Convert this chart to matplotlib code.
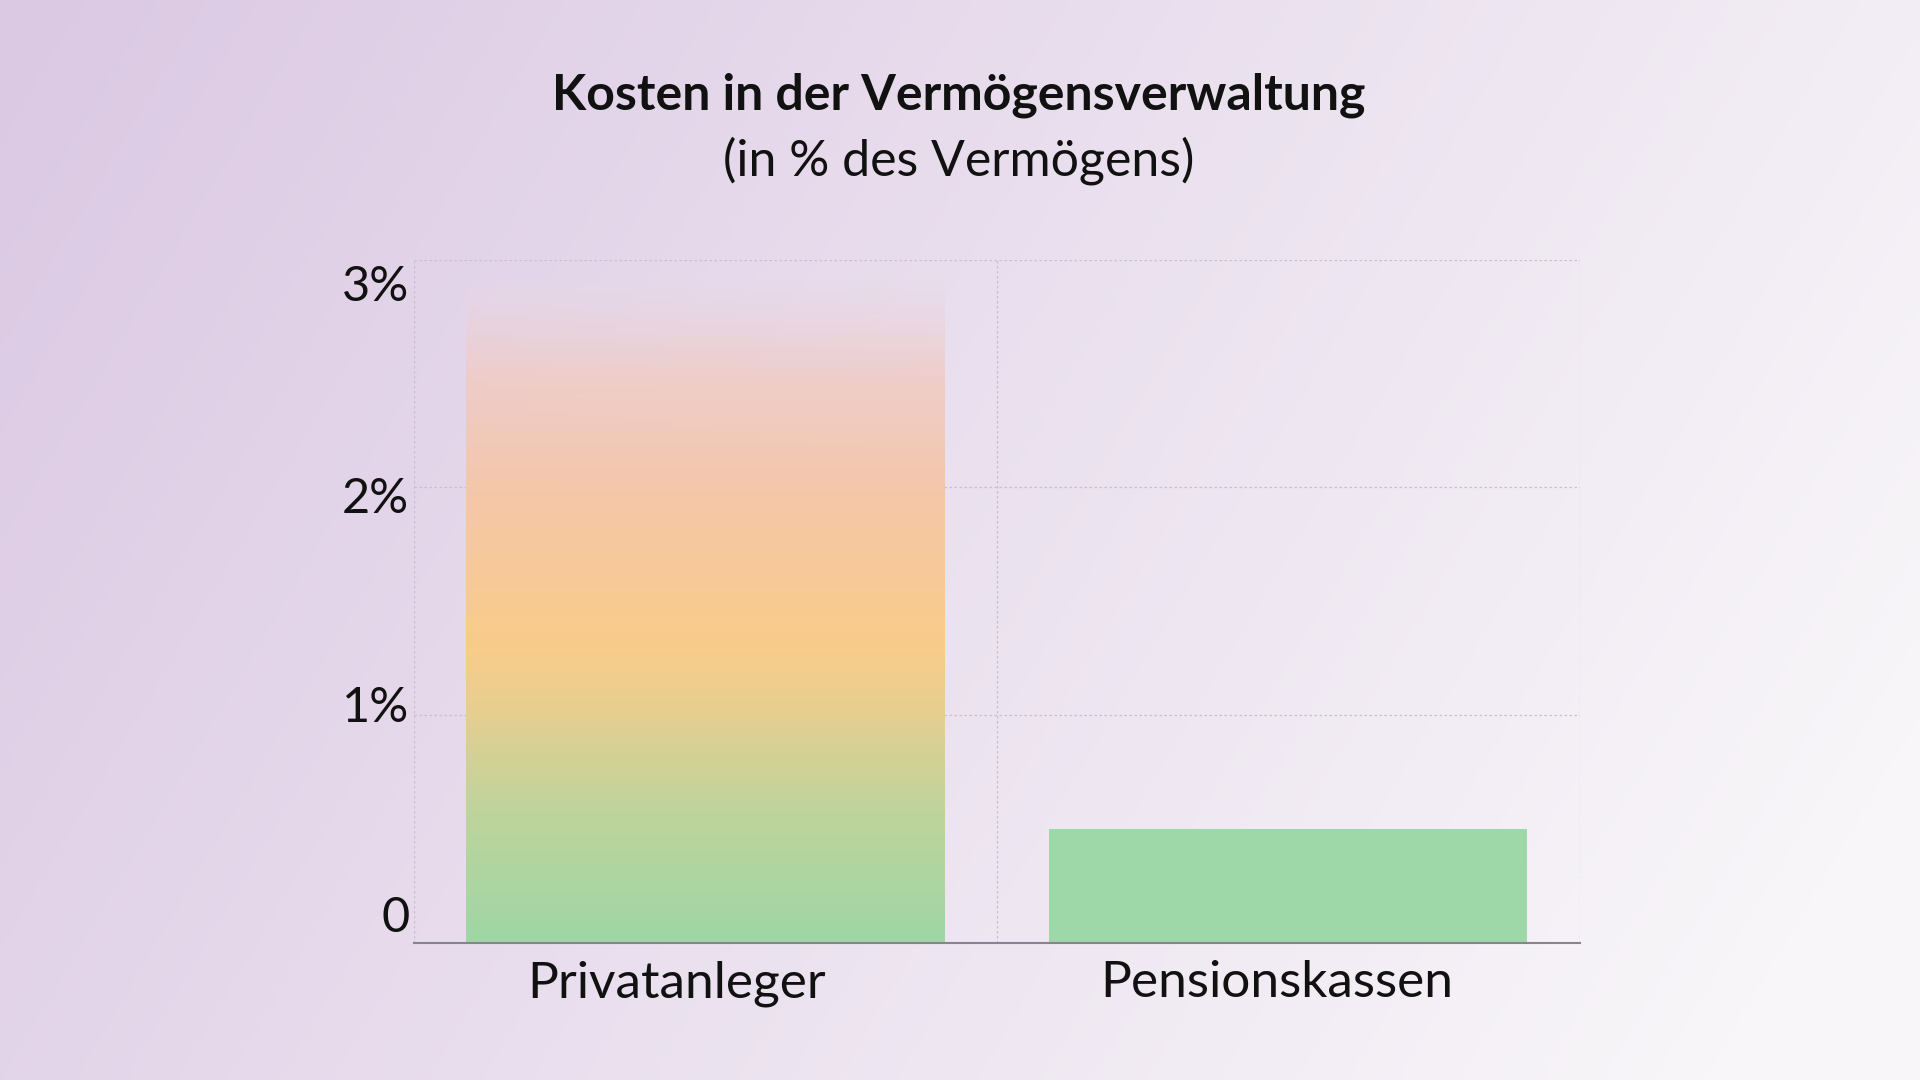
import matplotlib
matplotlib.use("Agg")
import matplotlib.pyplot as plt
import numpy as np
from matplotlib.colors import LinearSegmentedColormap, to_rgb

plt.rcParams['font.family'] = ['Lato', 'DejaVu Sans']

# Daten
kategorien = ["Privatanleger", "Pensionskassen"]
kosten = [2.9, 0.5]  # in % des Vermögens
yticks = [0, 1, 2, 3]
ytick_labels = ["0", "1%", "2%", "3%"]

fig = plt.figure(figsize=(19.2, 10.8), dpi=100)

# Hintergrundverlauf (oben links lila -> rechts fast weiss)
bg_ax = fig.add_axes([0, 0, 1, 1], zorder=-10)
bg_ax.set_axis_off()
gx, gy = np.meshgrid(np.linspace(0, 1, 400), np.linspace(0, 1, 225))
t = np.clip((gx * 0.9 + gy * 0.3) / 1.1, 0, 1)
c0 = np.array(to_rgb("#dbc8e3"))
c1 = np.array(to_rgb("#f8f6f9"))
bg = c0[None, None, :] * (1 - t[..., None]) + c1[None, None, :] * t[..., None]
bg_ax.imshow(bg, aspect='auto', extent=[0, 1, 0, 1], origin='upper')

ax = fig.add_axes([0.2156, 0.1269, 0.6073, 0.6327])
ax.set_facecolor('none')
ax.set_xlim(-0.5, 1.5)
ax.set_ylim(0, 3)

bars = ax.bar(range(len(kategorien)), kosten, width=0.82,
              color=['none', '#9ed7a8'], edgecolor='none', zorder=2)

# Verlauf im ersten Balken
verlauf = LinearSegmentedColormap.from_list("verlauf", [
    (0.00, (0.62, 0.84, 0.65, 1.0)),
    (0.20, (0.75, 0.83, 0.61, 1.0)),
    (0.36, (0.91, 0.81, 0.56, 1.0)),
    (0.45, (0.98, 0.80, 0.54, 1.0)),
    (0.68, (0.96, 0.78, 0.66, 1.0)),
    (0.86, (0.94, 0.80, 0.78, 0.9)),
    (0.96, (0.92, 0.83, 0.86, 0.45)),
    (1.00, (0.92, 0.85, 0.90, 0.15)),
])
b = bars[0]
grad = np.linspace(0, 1, 256).reshape(-1, 1)
im = ax.imshow(grad, cmap=verlauf, aspect='auto', origin='lower',
               extent=[b.get_x(), b.get_x() + b.get_width(), 0, b.get_height()],
               zorder=2)
im.set_clip_path(b)

# Gitter
ax.set_yticks(yticks)
ax.set_xticks([-0.5, 0.5, 1.5], minor=True)
ax.grid(True, which='major', axis='y', color='#c9bfcc', linestyle=(0, (2, 2)), linewidth=0.9, zorder=0)
ax.grid(True, which='minor', axis='x', color='#c9bfcc', linestyle=(0, (2, 2)), linewidth=0.9, zorder=0)
ax.set_xticks(range(len(kategorien)))
ax.tick_params(which='both', length=0)
ax.set_xticklabels([])
ax.set_yticklabels([])

for s in ['left', 'right', 'top']:
    ax.spines[s].set_visible(False)
ax.spines['bottom'].set_color('#8a8290')
ax.spines['bottom'].set_linewidth(1.5)
ax.spines['bottom'].set_zorder(3)

# y-Beschriftungen leicht versetzt wie im Original
ylab_pos = [0.11, 1.03, 1.95, 2.88]
for yp, lab in zip(ylab_pos, ytick_labels):
    ax.text(-0.508, yp, lab, ha='right', va='center', fontsize=35, color='#111111')

for i, k in enumerate(kategorien):
    ax.text(i - 0.05 if i == 0 else i - 0.02, -0.178, k, ha='center', va='center',
            fontsize=37, color='#111111')

fig.text(0.4995, 0.9116, "Kosten in der Vermögensverwaltung", ha='center', va='center',
         fontsize=36, fontweight='bold', color='#111111')
fig.text(0.4995, 0.8515, "(in % des Vermögens)", ha='center', va='center',
         fontsize=36, color='#111111')

fig.savefig("out.png", dpi=100)
